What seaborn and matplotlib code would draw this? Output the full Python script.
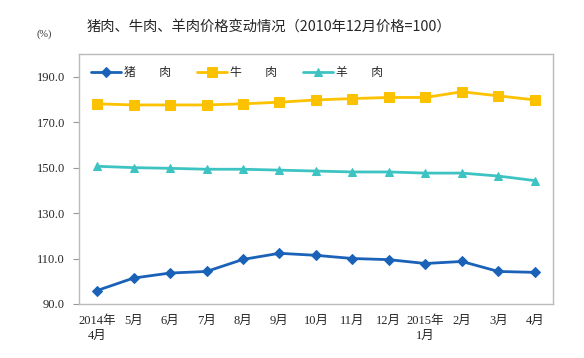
import numpy as np
import pandas as pd
import seaborn as sns
import matplotlib.pyplot as plt

months = ['2014年\n4月', '5月', '6月', '7月', '8月', '9月', '10月', '11月',
          '12月', '2015年\n1月', '2月', '3月', '4月']
pork = [95.9, 101.4, 103.6, 104.3, 109.6, 112.3, 111.4, 110.0, 109.5, 107.8, 108.7, 104.3, 103.9]
beef = [178.1, 177.6, 177.6, 177.6, 178.1, 178.8, 179.8, 180.4, 180.9, 180.9, 183.4, 181.6, 179.8]
mutton = [150.6, 150.0, 149.7, 149.3, 149.3, 148.9, 148.5, 148.1, 148.1, 147.6, 147.6, 146.3, 144.3]
names = ['猪　　肉', '牛　　肉', '羊　　肉']

sns.set_style('white')
plt.rcParams['font.family'] = ['Liberation Serif', 'Noto Sans CJK SC']

fig = plt.figure(figsize=(5.84, 3.58), dpi=100)
ax = fig.add_axes([0.135, 0.151, 0.812, 0.698])

x = np.arange(len(months))
styles = [(pork, '#1a62b8', 'D', 5.5), (beef, '#fcc200', 's', 6.5), (mutton, '#3ec3c3', '^', 6)]
for name, (vals, color, marker, ms) in zip(names, styles):
    sns.lineplot(x=x, y=vals, ax=ax, color=color, marker=marker, markersize=ms,
                 markeredgecolor=color, linewidth=2, label=name)

ax.set_xlim(-0.5, len(months) - 0.5)
ax.set_ylim(90, 200)
ax.set_yticks(np.arange(90, 191, 20))
ax.set_yticklabels([f'{v:.1f}' for v in np.arange(90, 191, 20)], fontsize=9)
ax.set_xticks(x)
ax.set_xticklabels(months, fontsize=9, linespacing=1.3)
ax.tick_params(axis='y', length=4, color='#999999', left=True, pad=6)
ax.tick_params(axis='x', length=0, pad=8)
for s in ax.spines.values():
    s.set_color('#bbbbbb')
    s.set_linewidth(1)

ax.legend(loc='upper left', bbox_to_anchor=(0.0, 1.0), ncol=3, frameon=False,
          prop={'family': 'Noto Sans CJK SC', 'size': 8.5}, handlelength=2.6,
          columnspacing=2.2, handletextpad=0.2, borderaxespad=0.6)

fig.text(0.46, 0.925, '猪肉、牛肉、羊肉价格变动情况（2010年12月价格=100）',
         ha='center', va='center', fontsize=10.3, family='Noto Sans CJK SC')
fig.text(0.075, 0.905, '(%)', ha='center', va='center', fontsize=7.5, color='#333333')

fig.savefig('out.png', dpi=100)
